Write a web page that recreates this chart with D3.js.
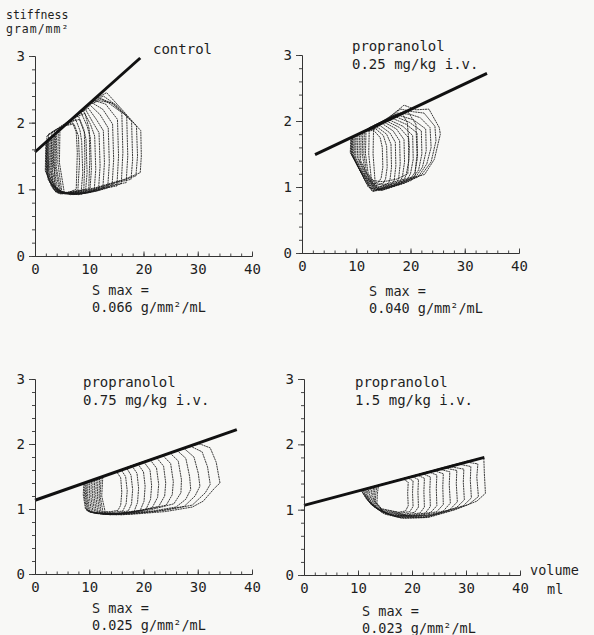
<!DOCTYPE html>
<html>
<head>
<meta charset="utf-8">
<script src="https://cdn.jsdelivr.net/npm/d3@7/dist/d3.min.js"></script>
<style>
  html, body { margin: 0; padding: 0; background: #f8f8f6; }
  svg { display: block; }
  text { font-family: "DejaVu Sans Mono", "Liberation Mono", monospace; fill: #1e1e1e; }
</style>
</head>
<body>
<svg id="chart" width="594" height="635"></svg>
<script>
// Axis ticks and labels
const volumeTicks = [0, 10, 20, 30, 40];
const volumeMinorTicks = [0, 2, 4, 6, 8, 10, 12, 14, 16, 18, 20, 22, 24, 26, 28, 30, 32, 34, 36, 38, 40];
const stiffnessTicks = [0, 1, 2, 3];
const stiffnessMinorTicks = [0, 0.2, 0.4, 0.6, 0.8, 1, 1.2, 1.4, 1.6, 1.8, 2, 2.2, 2.4, 2.6, 2.8, 3];

// Panel titles and the S max of each condition
const conditionTitles = [
  ["control"],
  ["propranolol", "0.25 mg/kg i.v."],
  ["propranolol", "0.75 mg/kg i.v."],
  ["propranolol", "1.5 mg/kg i.v."]
];
const smaxValues = ["0.066", "0.040", "0.025", "0.023"];

// Fitted end-systolic stiffness lines: [volume, stiffness] end points
const controlFit = [[0, 1.56], [19.4, 2.97]];
const dose025Fit = [[2.4, 1.49], [34.1, 2.72]];
const dose075Fit = [[0, 1.135], [37.2, 2.22]];
const dose15Fit = [[0, 1.065], [33.4, 1.80]];

// Stiffness-volume loops during preload reduction, [ml, g/mm²]
const controlLoops = [
  [[4.6,1.9],[10.5,2.33],[13.2,2.45],[16,2.2],[19.5,1.88],[19.6,1.5],[19.4,1.25],[16.5,1.15],[11,1.02],[5.4,0.95],[4.5,1.4]],
  [[4.3,1.88],[10.2,2.3],[12.6,2.4],[15.2,2.25],[18.7,1.95],[18.9,1.5],[18.6,1.2],[15.5,1.12],[10.5,1.0],[5.0,0.94],[4.2,1.4]],
  [[4.0,1.86],[9.8,2.28],[12.2,2.36],[14.5,2.28],[17.8,2.02],[18.0,1.45],[17.7,1.15],[15,1.1],[10,0.98],[4.8,0.94],[3.9,1.35]],
  [[3.8,1.84],[9.4,2.25],[11.8,2.33],[14,2.3],[16.9,2.1],[17.1,1.5],[16.8,1.1],[14,1.06],[9.5,0.96],[4.6,0.93],[3.7,1.35]],
  [[3.5,1.82],[9,2.22],[11.5,2.38],[13.5,2.3],[16.0,2.15],[16.2,1.55],[15.9,1.08],[13.5,1.04],[9,0.95],[4.3,0.94],[3.4,1.35]],
  [[3.3,1.81],[8.6,2.19],[11,2.33],[13,2.28],[15.2,2.05],[15.4,1.5],[15.1,1.05],[12.8,1.02],[8.5,0.93],[4.0,0.95],[3.2,1.3]],
  [[3.0,1.79],[8.2,2.16],[10.5,2.3],[12.5,2.2],[14.3,1.98],[14.5,1.45],[14.2,1.04],[12,1.0],[8,0.92],[3.8,0.96],[2.9,1.3]],
  [[2.8,1.77],[7.8,2.13],[10.2,2.26],[12,2.12],[13.5,1.92],[13.7,1.4],[13.4,1.02],[11.5,0.98],[7.5,0.93],[3.6,0.98],[2.7,1.3]],
  [[2.6,1.76],[7.4,2.1],[9.8,2.22],[11.3,2.05],[12.6,1.88],[12.8,1.4],[12.5,1.0],[10.8,0.97],[7,0.92],[3.4,1.0],[2.5,1.28]],
  [[2.4,1.74],[7,2.07],[9.3,2.2],[10.7,2.0],[11.8,1.85],[12.0,1.35],[11.7,0.98],[10,0.95],[6.5,0.92],[3.2,1.02],[2.3,1.28]],
  [[2.3,1.74],[6.6,2.05],[8.9,2.18],[10.2,1.98],[11.0,1.8],[11.2,1.3],[10.9,0.97],[9.3,0.94],[6,0.93],[3.0,1.05],[2.2,1.26]],
  [[2.2,1.73],[6.2,2.02],[8.5,2.15],[9.6,1.95],[10.2,1.78],[10.4,1.3],[10.1,0.96],[8.6,0.93],[5.5,0.93],[2.9,1.08],[2.1,1.27]],
  [[2.1,1.72],[5.8,1.99],[8.0,2.1],[9.0,1.9],[9.4,1.75],[9.6,1.25],[9.3,0.95],[8,0.93],[5,0.94],[2.8,1.1],[2.0,1.27]],
  [[2.0,1.71],[5.4,1.96],[7.5,2.05],[8.3,1.88],[8.6,1.72],[8.8,1.25],[8.5,0.95],[7.2,0.94],[4.5,0.95],[2.7,1.12],[1.9,1.28]],
  [[2.2,1.8],[4.8,1.93],[6.9,2.0],[7.6,1.86],[7.8,1.55],[7.6,1.0],[6.0,0.95],[3.8,0.97],[2.4,1.15],[2.1,1.5]],
  [[2.5,1.83],[5.2,1.95],[7.2,1.98],[8.0,1.8],[8.2,1.4],[7.9,0.98],[6.4,0.94],[4.2,0.96],[2.6,1.2],[2.4,1.55]],
  [[3.1,1.86],[6.0,2.0],[8.2,2.05],[9.1,1.85],[9.2,1.45],[9.0,1.0],[7.4,0.95],[4.8,0.95],[3.2,1.1],[3.0,1.5]],
  [[3.6,1.88],[6.8,2.06],[9.2,2.14],[10.0,1.9],[10.1,1.45],[9.9,0.99],[8.2,0.95],[5.2,0.94],[3.7,1.05],[3.5,1.5]]
];

const dose025Loops = [
  [[11.8,1.86],[16,2.05],[18.8,2.24],[21,2.17],[23.4,2.18],[25.3,1.9],[25.5,1.8],[24.4,1.42],[22.6,1.19],[18,1.08],[14,1.0],[12.2,1.2],[11.7,1.5]],
  [[11.5,1.85],[15.5,2.03],[18.2,2.18],[20.5,2.14],[22.5,2.12],[24.5,1.92],[24.7,1.7],[23.8,1.38],[22.0,1.18],[17.5,1.06],[13.8,0.98],[11.9,1.22],[11.4,1.5]],
  [[11.2,1.83],[15,2.0],[17.6,2.12],[20,2.1],[21.8,2.05],[23.6,1.9],[23.8,1.6],[23,1.35],[21.4,1.15],[17,1.03],[13.6,0.96],[11.6,1.25],[11.1,1.5]],
  [[10.9,1.82],[14.6,1.98],[17.2,2.1],[20.5,2.02],[22.8,1.88],[22.9,1.55],[22.2,1.3],[20.8,1.13],[16.5,1.02],[13.4,0.95],[10.8,1.4]],
  [[10.6,1.81],[14.2,1.96],[16.8,2.08],[19.8,1.98],[22.0,1.85],[22.1,1.5],[21.5,1.26],[20.2,1.1],[16,1.0],[13.2,0.94],[10.5,1.42]],
  [[10.3,1.8],[13.8,1.94],[16.4,2.05],[19.2,1.95],[21.2,1.82],[21.3,1.45],[20.8,1.22],[19.6,1.08],[15.5,0.98],[13,0.93],[10.2,1.45]],
  [[10.0,1.79],[13.4,1.92],[16,2.02],[18.6,1.92],[20.4,1.78],[20.5,1.42],[20.0,1.2],[19,1.06],[15,0.96],[12.8,0.95],[9.9,1.45]],
  [[9.8,1.78],[13,1.9],[15.6,2.0],[18,1.9],[19.6,1.75],[19.7,1.4],[19.2,1.18],[18.4,1.05],[14.8,0.95],[12.5,0.98],[9.7,1.46]],
  [[9.6,1.77],[12.6,1.88],[15.2,1.98],[17.4,1.88],[18.8,1.72],[18.9,1.38],[18.5,1.15],[17.8,1.04],[14.6,0.95],[12.2,1.0],[9.5,1.47]],
  [[9.4,1.76],[12.3,1.87],[14.8,1.96],[16.8,1.85],[18.0,1.7],[18.1,1.35],[17.8,1.12],[17.2,1.04],[14.4,0.96],[11.9,1.05],[9.3,1.48]],
  [[9.3,1.76],[12,1.86],[14.4,1.93],[16.2,1.82],[17.2,1.68],[17.3,1.32],[17.0,1.1],[16.5,1.04],[14.2,0.97],[11.6,1.1],[9.2,1.5]],
  [[9.2,1.76],[11.7,1.85],[14.0,1.9],[15.6,1.8],[16.4,1.65],[16.5,1.3],[16.2,1.1],[15.8,1.05],[14,0.99],[11.3,1.15],[9.1,1.5]],
  [[9.1,1.75],[11.4,1.84],[13.6,1.88],[15.0,1.78],[15.6,1.62],[15.7,1.3],[15.4,1.12],[15,1.06],[13.6,1.02],[11,1.2],[9.0,1.52]],
  [[9.0,1.75],[11.1,1.83],[13.2,1.86],[14.4,1.75],[14.8,1.6],[14.9,1.3],[14.6,1.14],[14.2,1.08],[13.2,1.05],[10.7,1.25],[8.9,1.52]],
  [[12.4,1.9],[16.5,2.06],[18.4,2.12],[19.4,1.98],[19.8,1.6],[19.5,1.2],[17.5,1.12],[15,1.08],[12.8,1.1],[12.3,1.5]],
  [[13.2,1.93],[17.4,2.1],[19.4,2.16],[21.0,1.95],[21.2,1.5],[20.8,1.16],[18,1.1],[15.2,1.04],[13.5,1.05],[13.1,1.5]]
];

const dose075Loops = [
  [[12.5,1.5],[20,1.72],[26,1.9],[30.4,2.0],[32.3,1.94],[33.4,1.72],[34.1,1.4],[33.2,1.33],[31,1.12],[29,1.03],[24,0.96],[18,0.92],[13,0.93],[12.3,1.2]],
  [[12.2,1.49],[20,1.72],[25,1.87],[28.8,1.96],[30.8,1.88],[31.8,1.65],[32.3,1.38],[31.4,1.25],[29,1.06],[24,0.98],[17,0.92],[12.6,0.92],[12.0,1.2]],
  [[11.9,1.48],[19,1.7],[24,1.84],[27.5,1.93],[29.3,1.8],[30.1,1.55],[30.4,1.35],[29.5,1.2],[27.5,1.04],[22,0.96],[16,0.91],[12.2,0.93],[11.8,1.2]],
  [[11.6,1.47],[18,1.67],[23,1.81],[26.2,1.9],[27.8,1.78],[28.5,1.5],[28.7,1.3],[27.8,1.15],[26,1.03],[21,0.96],[15.5,0.92],[11.9,0.94],[11.5,1.2]],
  [[11.3,1.46],[18,1.67],[24.9,1.86],[26.4,1.74],[27.0,1.45],[26.9,1.25],[25.6,1.08],[20.5,0.97],[15,0.91],[11.6,0.93],[11.2,1.2]],
  [[11.0,1.45],[17.5,1.65],[23.6,1.82],[25.0,1.7],[25.5,1.42],[25.3,1.22],[24.2,1.06],[20,0.98],[14.5,0.92],[11.3,0.93],[10.9,1.2]],
  [[10.7,1.44],[17,1.63],[22.4,1.79],[23.7,1.66],[24.1,1.4],[23.9,1.2],[22.8,1.04],[19,0.96],[14,0.91],[11.0,0.94],[10.6,1.2]],
  [[10.4,1.44],[16.5,1.62],[21.2,1.76],[22.4,1.63],[22.8,1.38],[22.6,1.18],[21.6,1.02],[18,0.95],[13.5,0.92],[10.7,0.94],[10.3,1.2]],
  [[10.1,1.43],[16,1.6],[20.1,1.72],[21.2,1.6],[21.5,1.36],[21.3,1.15],[20.5,1.0],[17,0.94],[13,0.92],[10.4,0.95],[10.0,1.2]],
  [[9.8,1.42],[15.5,1.59],[19.0,1.69],[20.0,1.57],[20.3,1.35],[20.1,1.12],[19.4,0.98],[16,0.93],[12.5,0.92],[10.1,0.95],[9.7,1.2]],
  [[9.6,1.41],[15,1.57],[17.9,1.66],[18.8,1.55],[19.1,1.32],[18.9,1.1],[18.3,0.97],[15.5,0.93],[12,0.93],[9.9,0.96],[9.5,1.2]],
  [[9.4,1.41],[14.5,1.56],[16.9,1.63],[17.7,1.52],[18.0,1.3],[17.8,1.08],[17.2,0.97],[15,0.94],[11.5,0.93],[9.7,0.97],[9.3,1.2]],
  [[9.2,1.4],[14,1.54],[15.9,1.6],[16.7,1.5],[17.0,1.28],[16.8,1.08],[16.2,0.97],[14.5,0.95],[11,0.94],[9.5,0.98],[9.1,1.2]],
  [[9.0,1.4],[13.5,1.53],[15.0,1.58],[15.8,1.48],[16.0,1.26],[15.8,1.06],[15.3,0.98],[14,0.96],[10.5,0.95],[9.3,1.0],[8.9,1.22]]
];

const dose15Loops = [
  [[13.8,1.37],[20,1.51],[26,1.65],[30.5,1.75],[33.3,1.79],[33.4,1.55],[33.6,1.25],[32,1.13],[28,1.0],[23,0.88],[18.5,0.87],[15,0.95],[13.5,1.1],[13.6,1.25]],
  [[13.5,1.36],[20,1.51],[26,1.64],[30,1.73],[32.2,1.7],[32.0,1.5],[32.3,1.2],[30.5,1.08],[27,0.98],[22.5,0.88],[18,0.87],[14.8,0.96],[13.2,1.12],[13.3,1.25]],
  [[13.2,1.36],[19,1.49],[25,1.62],[28.5,1.7],[30.9,1.66],[30.8,1.45],[31.0,1.18],[29.5,1.06],[26,0.97],[22,0.88],[17.5,0.88],[14.5,0.97],[13.0,1.14],[13.0,1.25]],
  [[12.9,1.35],[19,1.49],[27,1.66],[29.6,1.62],[29.5,1.42],[29.7,1.15],[28.2,1.03],[24,0.92],[17,0.89],[13.8,1.0],[12.7,1.2]],
  [[12.6,1.34],[18.5,1.47],[26,1.64],[28.3,1.6],[28.2,1.4],[28.4,1.12],[27,1.0],[23,0.9],[16.5,0.9],[13.5,1.02],[12.4,1.2]],
  [[12.3,1.34],[18,1.46],[25,1.62],[27.0,1.58],[26.9,1.38],[27.1,1.1],[25.8,0.98],[22,0.9],[16,0.91],[13.2,1.03],[12.1,1.22]],
  [[12.0,1.33],[17.5,1.45],[24,1.6],[25.8,1.55],[25.7,1.35],[25.8,1.08],[24.6,0.97],[21,0.9],[15.5,0.92],[12.9,1.05],[11.8,1.22]],
  [[11.8,1.33],[17,1.44],[23,1.58],[24.6,1.53],[24.5,1.33],[24.6,1.06],[23.5,0.96],[20,0.9],[15,0.93],[12.6,1.07],[11.6,1.23]],
  [[11.6,1.32],[16.5,1.43],[22,1.55],[23.4,1.5],[23.3,1.3],[23.4,1.05],[22.5,0.95],[19.5,0.91],[14.6,0.95],[12.4,1.08],[11.4,1.24]],
  [[11.4,1.32],[16,1.42],[21,1.53],[22.3,1.48],[22.2,1.28],[22.3,1.04],[21.5,0.95],[19,0.92],[14.3,0.97],[12.2,1.1],[11.2,1.25]],
  [[11.2,1.31],[15.5,1.41],[20,1.51],[21.2,1.46],[21.1,1.27],[21.2,1.04],[20.5,0.96],[18.5,0.93],[14,0.99],[12,1.12],[11.0,1.26]],
  [[11.0,1.31],[15,1.4],[19.2,1.49],[20.2,1.44],[20.1,1.26],[20.2,1.05],[19.6,0.97],[18,0.95],[13.8,1.01],[11.8,1.14],[10.8,1.27]],
  [[10.9,1.31],[14.5,1.39],[18.4,1.47],[19.3,1.42],[19.2,1.25],[19.3,1.06],[18.8,0.98],[17.5,0.96],[13.5,1.03],[11.6,1.16],[10.7,1.28]]
];

// Panel placement on the page (pixel frame of each plot area)
const panels = [
  { loops: controlLoops, fit: controlFit, title: conditionTitles[0], smax: smaxValues[0],
    left: 35, right: 252, bottom: 256, top: 56, titleX: 153, titleY: 54, smaxX: 92, smaxY: 295 },
  { loops: dose025Loops, fit: dose025Fit, title: conditionTitles[1], smax: smaxValues[1],
    left: 302, right: 519, bottom: 253, top: 55, titleX: 352, titleY: 51, smaxX: 369, smaxY: 296 },
  { loops: dose075Loops, fit: dose075Fit, title: conditionTitles[2], smax: smaxValues[2],
    left: 35, right: 252, bottom: 574, top: 379, titleX: 83, titleY: 387, smaxX: 92, smaxY: 613 },
  { loops: dose15Loops, fit: dose15Fit, title: conditionTitles[3], smax: smaxValues[3],
    left: 304, right: 520, bottom: 575, top: 379, titleX: 355, titleY: 387, smaxX: 362, smaxY: 616 }
];

const svg = d3.select("#chart");
const FONT = '"DejaVu Sans Mono", "Liberation Mono", monospace';
const intFormat = d3.format("d");

panels.forEach((p) => {
  const x = d3.scaleLinear().domain([0, 40]).range([p.left, p.right]);
  const y = d3.scaleLinear().domain([0, 3]).range([p.bottom, p.top]);
  const g = svg.append("g");

  // loops
  const loopLine = d3.line()
    .x(d => x(d[0]))
    .y(d => y(d[1]))
    .curve(d3.curveLinearClosed);
  g.append("g")
    .selectAll("path")
    .data(p.loops)
    .join("path")
    .attr("d", loopLine)
    .attr("fill", "none")
    .attr("stroke", "#1a1a1a")
    .attr("stroke-width", 0.85)
    .attr("stroke-dasharray", "2 0.6");

  // fitted line
  g.append("path")
    .datum(p.fit)
    .attr("d", d3.line().x(d => x(d[0])).y(d => y(d[1])))
    .attr("fill", "none")
    .attr("stroke", "#111")
    .attr("stroke-width", 3)
    .attr("stroke-linecap", "butt");

  // x axis: minor and major ticks point up into the plot
  const xMinor = g.append("g").attr("transform", `translate(0,${p.bottom})`)
    .call(d3.axisBottom(x).tickValues(volumeMinorTicks).tickSize(-2.5).tickSizeOuter(0).tickFormat(""));
  const xMajor = g.append("g").attr("transform", `translate(0,${p.bottom})`)
    .call(d3.axisBottom(x).tickValues(volumeTicks).tickSize(-4.5).tickSizeOuter(0).tickPadding(8).tickFormat(intFormat));

  // y axis: ticks point left
  const yMinor = g.append("g").attr("transform", `translate(${p.left},0)`)
    .call(d3.axisLeft(y).tickValues(stiffnessMinorTicks).tickSize(3).tickSizeOuter(0).tickFormat(""));
  const yMajor = g.append("g").attr("transform", `translate(${p.left},0)`)
    .call(d3.axisLeft(y).tickValues(stiffnessTicks).tickSize(6).tickSizeOuter(0).tickPadding(4).tickFormat(intFormat));

  [xMinor, xMajor, yMinor, yMajor].forEach(a => {
    a.selectAll("path.domain").attr("stroke", "#333").attr("stroke-width", 1);
    a.selectAll(".tick line").attr("stroke", "#333").attr("stroke-width", 0.9);
    a.selectAll(".tick text").attr("font-family", FONT).attr("font-size", 14).attr("fill", "#1e1e1e");
  });

  // condition title
  const t = g.append("text")
    .attr("x", p.titleX).attr("y", p.titleY)
    .attr("font-size", 14);
  p.title.forEach((line, k) => {
    t.append("tspan").attr("x", p.titleX).attr("dy", k === 0 ? 0 : 18).text(line);
  });

  // S max annotation
  const s = g.append("text").attr("x", p.smaxX).attr("y", p.smaxY).attr("font-size", 13.5);
  s.append("tspan").attr("x", p.smaxX).text("S max =");
  s.append("tspan").attr("x", p.smaxX).attr("dy", 17).text(`${p.smax} g/mm²/mL`);
});

// axis titles
const yTitle = svg.append("text").attr("x", 6).attr("y", 19).attr("font-size", 11.5);
yTitle.append("tspan").attr("x", 6).text("stiffness");
yTitle.append("tspan").attr("x", 6).attr("dy", 14).attr("letter-spacing", 1).text("gram/mm²");

svg.append("text").attr("x", 530).attr("y", 575).attr("font-size", 13.5).text("volume");
svg.append("text").attr("x", 547).attr("y", 594).attr("font-size", 13.5).text("ml");
</script>
</body>
</html>
